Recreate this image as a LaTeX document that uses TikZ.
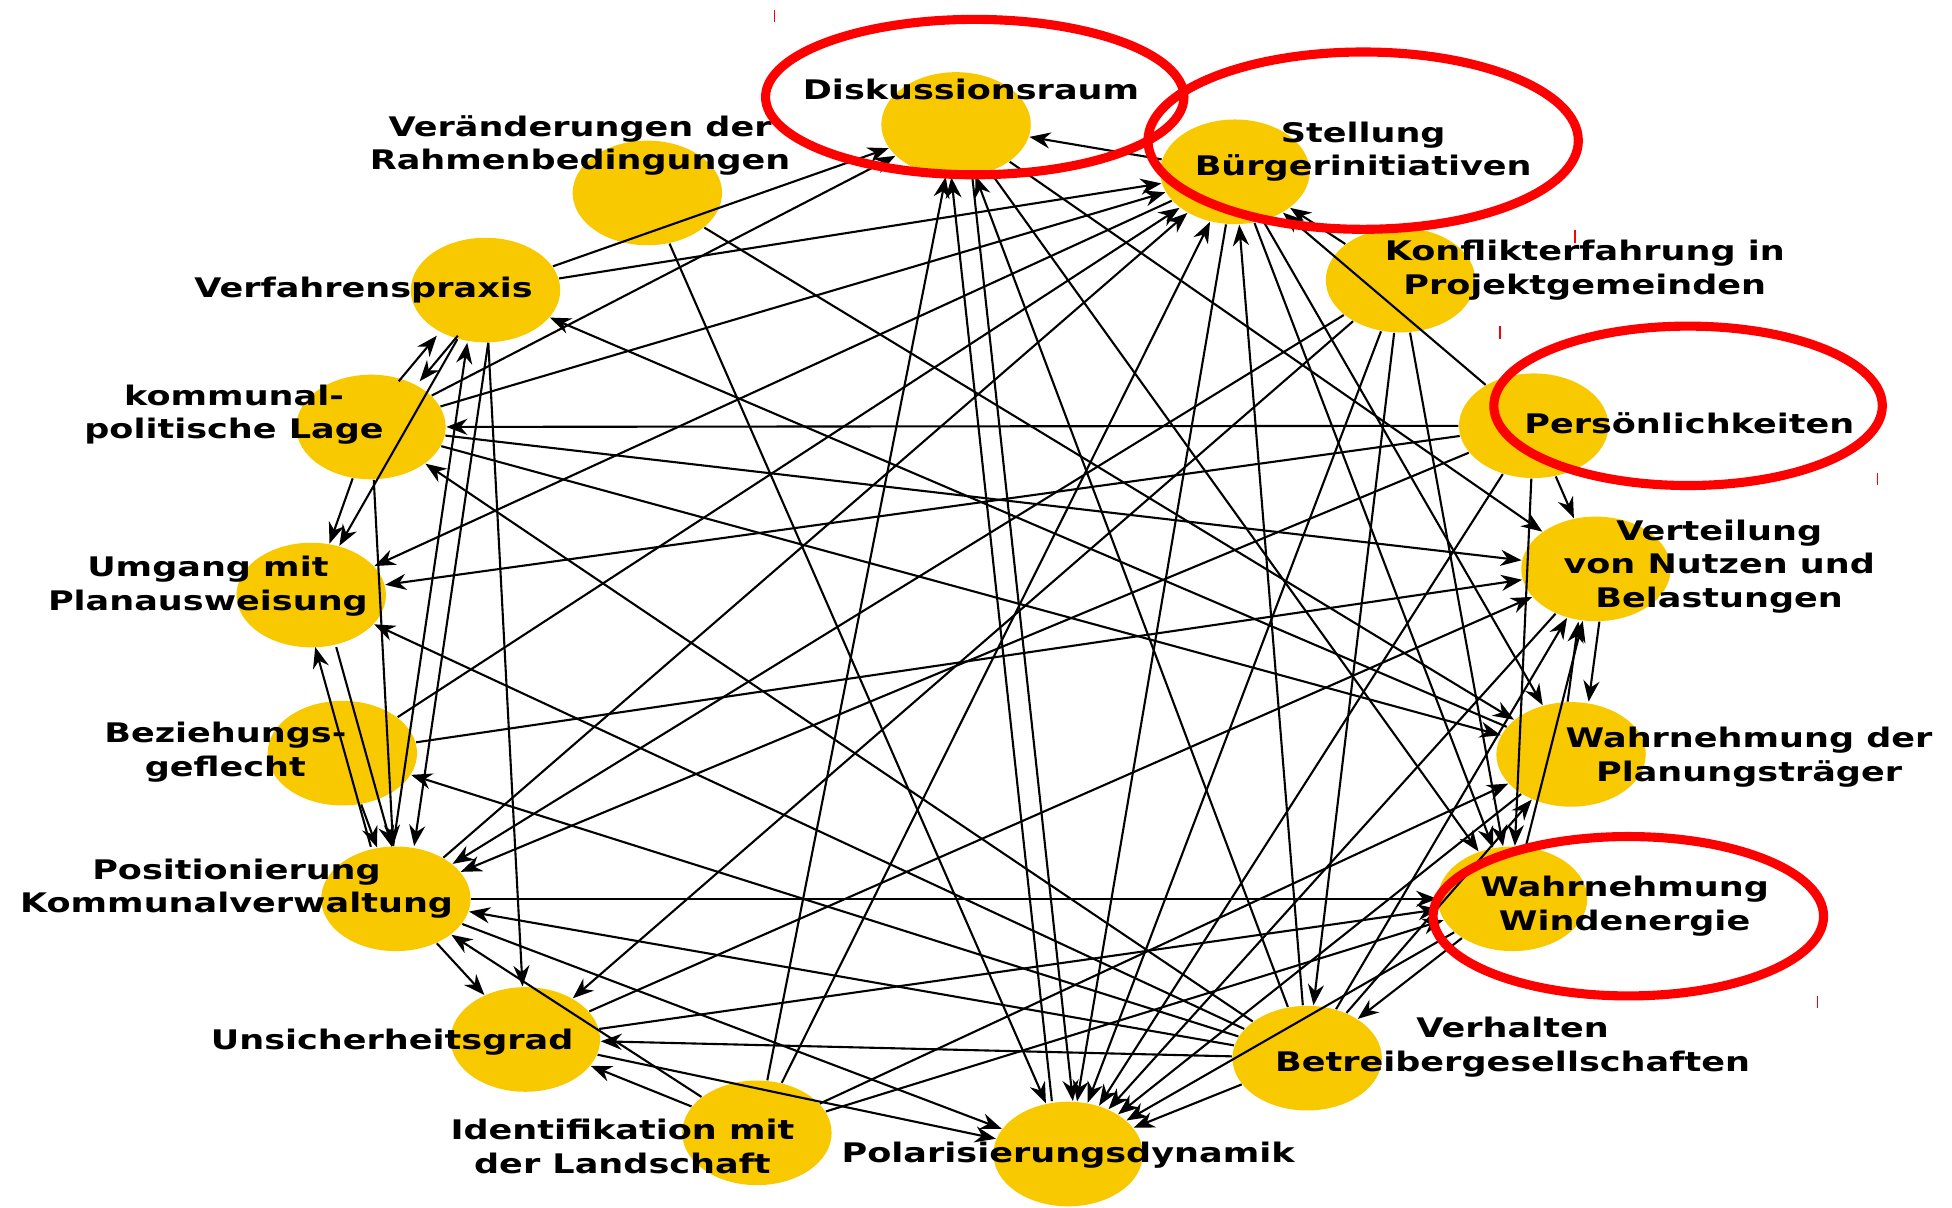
\documentclass[tikz,border=0pt]{standalone}
\usepackage{fontspec}
\usepackage{xcolor}
\usetikzlibrary{arrows.meta,shapes.geometric}
\newfontfamily\labelfont{DejaVu Sans}[FakeStretch=1.3]
\definecolor{dotYellow}{HTML}{F9C900}
\definecolor{markRed}{HTML}{FF0000}

\begin{document}
\begin{tikzpicture}[x=0.0125cm,y=-0.0125cm,
    font={\labelfont\bfseries\fontsize{7.7pt}{9.6pt}\selectfont},
    dot/.style={ellipse,fill=dotYellow,minimum width=1.5cm,
                minimum height=1.05cm,inner sep=0pt},
    lbl/.style={align=center,inner sep=0pt},
    edge/.style={-{Stealth[length=6pt,width=4.6pt]},
                 line width=0.6pt,black},
    ring/.style={draw=markRed,line width=2.6pt}]
  \useasboundingbox[fill=white] (0,0) rectangle (1568,970);

  \node[dot] (D)  at (768,100) {};
  \node[dot] (SB) at (992,138) {};
  \node[dot] (KP) at (1125,225) {};
  \node[dot] (P)  at (1232,342) {};
  \node[dot] (V)  at (1282,457) {};
  \node[dot] (WP) at (1262,606) {};
  \node[dot] (WW) at (1215,722) {};
  \node[dot] (VB) at (1050,850) {};
  \node[dot] (PD) at (858,927) {};
  \node[dot] (IL) at (608,910) {};
  \node[dot] (U)  at (422,835) {};
  \node[dot] (PK) at (318,722) {};
  \node[dot] (B)  at (275,605) {};
  \node[dot] (UP) at (250,478) {};
  \node[dot] (KL) at (298,343) {};
  \node[dot] (VP) at (390,233) {};
  \node[dot] (VR) at (520,155) {};

  \node[lbl] (Dl)  at (780,72)   {Diskussionsraum};
  \node[lbl] (SBl) at (1095,122) {Stellung\\Bürgerinitiativen};
  \node[lbl] (KPl) at (1273,217) {Konflikterfahrung in\\Projektgemeinden};
  \node[lbl] (Pl)  at (1357,340) {Persönlichkeiten};
  \node[lbl] (Vl)  at (1381,455) {Verteilung\\von Nutzen und\\Belastungen};
  \node[lbl] (WPl) at (1405,608) {Wahrnehmung der\\Planungsträger};
  \node[lbl] (WWl) at (1305,728) {Wahrnehmung\\Windenergie};
  \node[lbl] (VBl) at (1215,841) {Verhalten\\Betreibergesellschaften};
  \node[lbl] (PDl) at (858,928)  {Polarisierungsdynamik};
  \node[lbl] (ILl) at (500,921)  {Identifikation mit\\der Landschaft};
  \node[lbl] (Ul)  at (315,837)  {Unsicherheitsgrad};
  \node[lbl] (PKl) at (190,714)  {Positionierung\\Kommunalverwaltung};
  \node[lbl] (Bl)  at (181,604)  {Beziehungs-\\geflecht};
  \node[lbl] (UPl) at (167,471)  {Umgang mit\\Planausweisung};
  \node[lbl] (KLl) at (188,333)  {kommunal-\\politische Lage};
  \node[lbl] (VPl) at (292,233)  {Verfahrenspraxis};
  \node[lbl] (VRl) at (466,117)  {Veränderungen der\\Rahmenbedingungen};

  \foreach \a/\b in {VP/D,VP/SB,VP/UP,VP/U,
      KL/D,KL/SB,KL/UP,KL/PK,KL/V,KL/WP,
      P/KL,P/UP,P/SB,P/V,P/WW,P/PK,P/PD,
      KP/SB,KP/PK,KP/PD,KP/VB,KP/WW,KP/U,
      SB/D,SB/UP,SB/WW,SB/PD,SB/WP,
      VR/PD,VR/WP,D/WW,D/V,
      IL/D,IL/SB,IL/WP,IL/U,IL/PK,IL/WW,
      U/WW,U/V,U/PD,PK/WW,PK/U,PK/PD,PK/SB,
      B/PK,B/SB,B/V,
      VB/U,VB/UP,VB/KL,VB/B,VB/D,VB/SB,VB/V,VB/WP,VB/PD,VB/PK,
      WW/VB,WW/V,WW/PD,WP/VP,WP/PD,V/PD}
    \draw[edge] (\a) -- (\b);

  \foreach \a/\b/\s in {VP/KL/3,KL/VP/-3,VP/PK/3,PK/VP/-3,
      PK/UP/-3,UP/PK/3,D/PD/3,PD/D/-3,WP/V/-3,V/WP/3}
    \draw[edge,transform canvas={xshift=\s pt}] (\a) -- (\b);

  \draw[ring] (783,78)   ellipse [x radius=2.1cm,y radius=0.78cm];
  \draw[ring] (1095,113) ellipse [x radius=2.16cm,y radius=0.89cm];
  \draw[ring] (1356,326) ellipse [x radius=1.95cm,y radius=0.8cm];
  \draw[ring] (1308,736) ellipse [x radius=1.96cm,y radius=0.8cm];

  \foreach \x/\y in {622/8,1265/185,1205/262,1508/380,1460/800}
    \draw[markRed,line width=0.4pt] (\x,\y) -- (\x,\y+10);
\end{tikzpicture}
\end{document}
